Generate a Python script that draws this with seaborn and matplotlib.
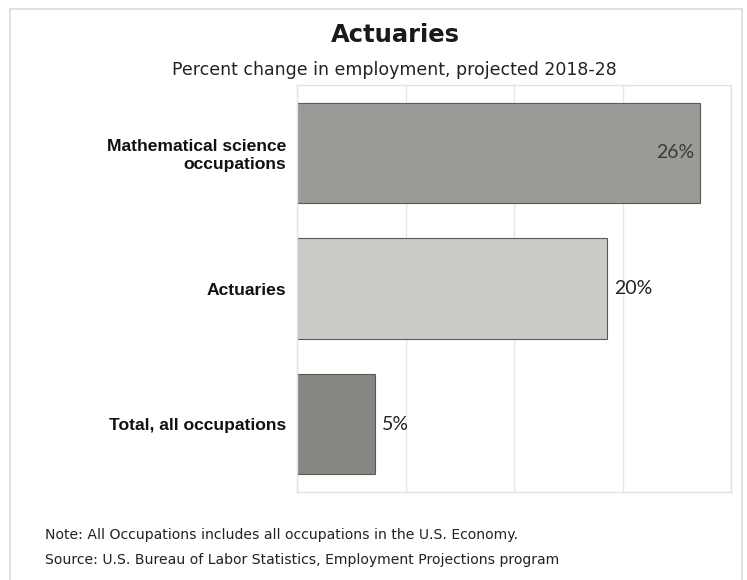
import seaborn as sns
import matplotlib.pyplot as plt
import pandas as pd
from matplotlib.patches import Rectangle

occupations = ["Mathematical science\noccupations", "Actuaries", "Total, all occupations"]
pct_change = [26, 20, 5]
bar_colours = ["#9a9a97", "#cacac6", "#878783"]
x_ticks = [0, 7, 14, 21, 28]

df = pd.DataFrame({"occupation": occupations, "change": pct_change})

sns.set_style("white")
fig = plt.figure(figsize=(7.47, 5.8), dpi=100)
ax = fig.add_axes([0.3976, 0.1517, 0.581, 0.7017])

sns.barplot(data=df, x="change", y="occupation", hue="occupation",
            palette=bar_colours, orient="h", width=0.74, legend=False,
            edgecolor="#5a5a58", linewidth=0.8, saturation=1, ax=ax)

ax.set_xlim(0, 28)
ax.set_ylim(2.5, -0.5)
ax.set_xticks(x_ticks)
ax.set_xticklabels([])
ax.tick_params(axis="x", length=0)
ax.tick_params(axis="y", length=0, pad=8)
ax.grid(axis="x", color="#e6e6e6", linewidth=1)
ax.set_axisbelow(True)
for s in ax.spines.values():
    s.set_color("#e2e2e2")
    s.set_linewidth(1)
ax.set_xlabel("")
ax.set_ylabel("")
for lbl in ax.get_yticklabels():
    lbl.set_fontfamily("Liberation Sans")
    lbl.set_fontweight("bold")
    lbl.set_fontsize(12.6)
    lbl.set_color("#111111")
    lbl.set_multialignment("right")

# value labels
for i, v in enumerate(pct_change):
    if v == max(pct_change):
        ax.text(v - 0.4, i, f"{v}%", ha="right", va="center",
                fontsize=14, family="Lato", color="#3a3a3a")
    else:
        ax.text(v + 0.45, i, f"{v}%", ha="left", va="center",
                fontsize=14, family="Lato", color="#222222")

fig.text(0.529, 0.94, "Actuaries", ha="center", va="center",
         fontsize=17.5, fontweight="bold", family="DejaVu Sans", color="#1a1a1a")
fig.text(0.528, 0.879, "Percent change in employment, projected 2018-28",
         ha="center", va="center", fontsize=12.5, family="DejaVu Sans", color="#222222")

fig.text(0.06, 0.078, "Note: All Occupations includes all occupations in the U.S. Economy.",
         ha="left", va="center", fontsize=10.1, family="DejaVu Sans", color="#222222")
fig.text(0.06, 0.034, "Source: U.S. Bureau of Labor Statistics, Employment Projections program",
         ha="left", va="center", fontsize=10.1, family="DejaVu Sans", color="#222222")

# outer frame
fig.patches.append(Rectangle((10 / 747, -0.05), 732 / 747, 1.05 - 9 / 580,
                             transform=fig.transFigure, fill=False,
                             edgecolor="#dddddd", linewidth=1.2))

fig.savefig("out.png", dpi=100)
